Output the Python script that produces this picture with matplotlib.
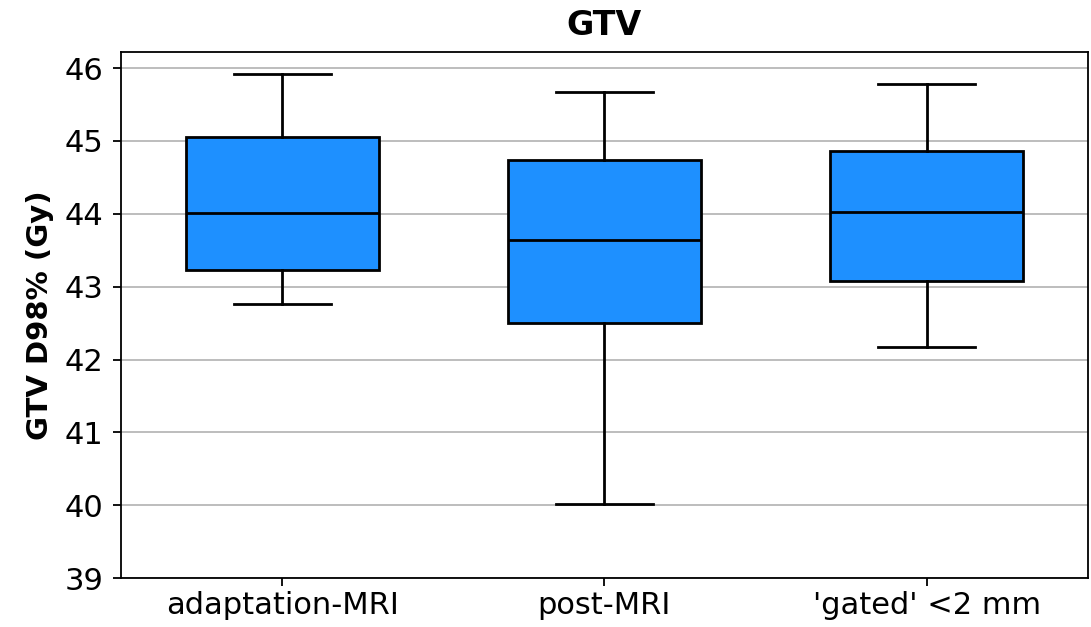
import matplotlib
matplotlib.use("Agg")
import matplotlib.pyplot as plt

# Box statistics (Gy)
groups = ["adaptation-MRI", "post-MRI", "'gated' <2 mm"]
whisker_low = [42.76, 40.02, 42.17]
q1 = [43.23, 42.50, 43.08]
median = [44.01, 43.64, 44.02]
q3 = [45.05, 44.74, 44.86]
whisker_high = [45.92, 45.67, 45.78]

stats = []
for lab, lo, a, m, b, hi in zip(groups, whisker_low, q1, median, q3, whisker_high):
    stats.append({"label": lab, "whislo": lo, "q1": a, "med": m,
                  "q3": b, "whishi": hi, "fliers": []})

fig, ax = plt.subplots(figsize=(10.91, 6.27), dpi=100)
fig.subplots_adjust(left=0.111, right=0.997, top=0.917, bottom=0.078)

lw = 2.0
ax.bxp(stats, widths=0.6, patch_artist=True, showfliers=False,
       boxprops=dict(facecolor="#1E90FF", edgecolor="black", linewidth=lw),
       medianprops=dict(color="black", linewidth=lw),
       whiskerprops=dict(color="black", linewidth=lw),
       capprops=dict(color="black", linewidth=lw))

ax.set_ylim(39, 46.22)
ax.set_yticks(range(39, 47))
ax.yaxis.grid(True, color="#b8b8b8", linewidth=1.3)
ax.set_axisbelow(True)
for sp in ax.spines.values():
    sp.set_linewidth(1.3)
ax.tick_params(axis="both", labelsize=22, length=5.5, width=1.3)
ax.tick_params(axis="y", pad=7)
ax.tick_params(axis="x", pad=4)
ax.set_ylabel("GTV D98% (Gy)", fontsize=21, fontweight="bold", labelpad=8)
ax.set_title("GTV", fontsize=24, fontweight="bold", pad=12)

fig.savefig("out.png", dpi=100)
